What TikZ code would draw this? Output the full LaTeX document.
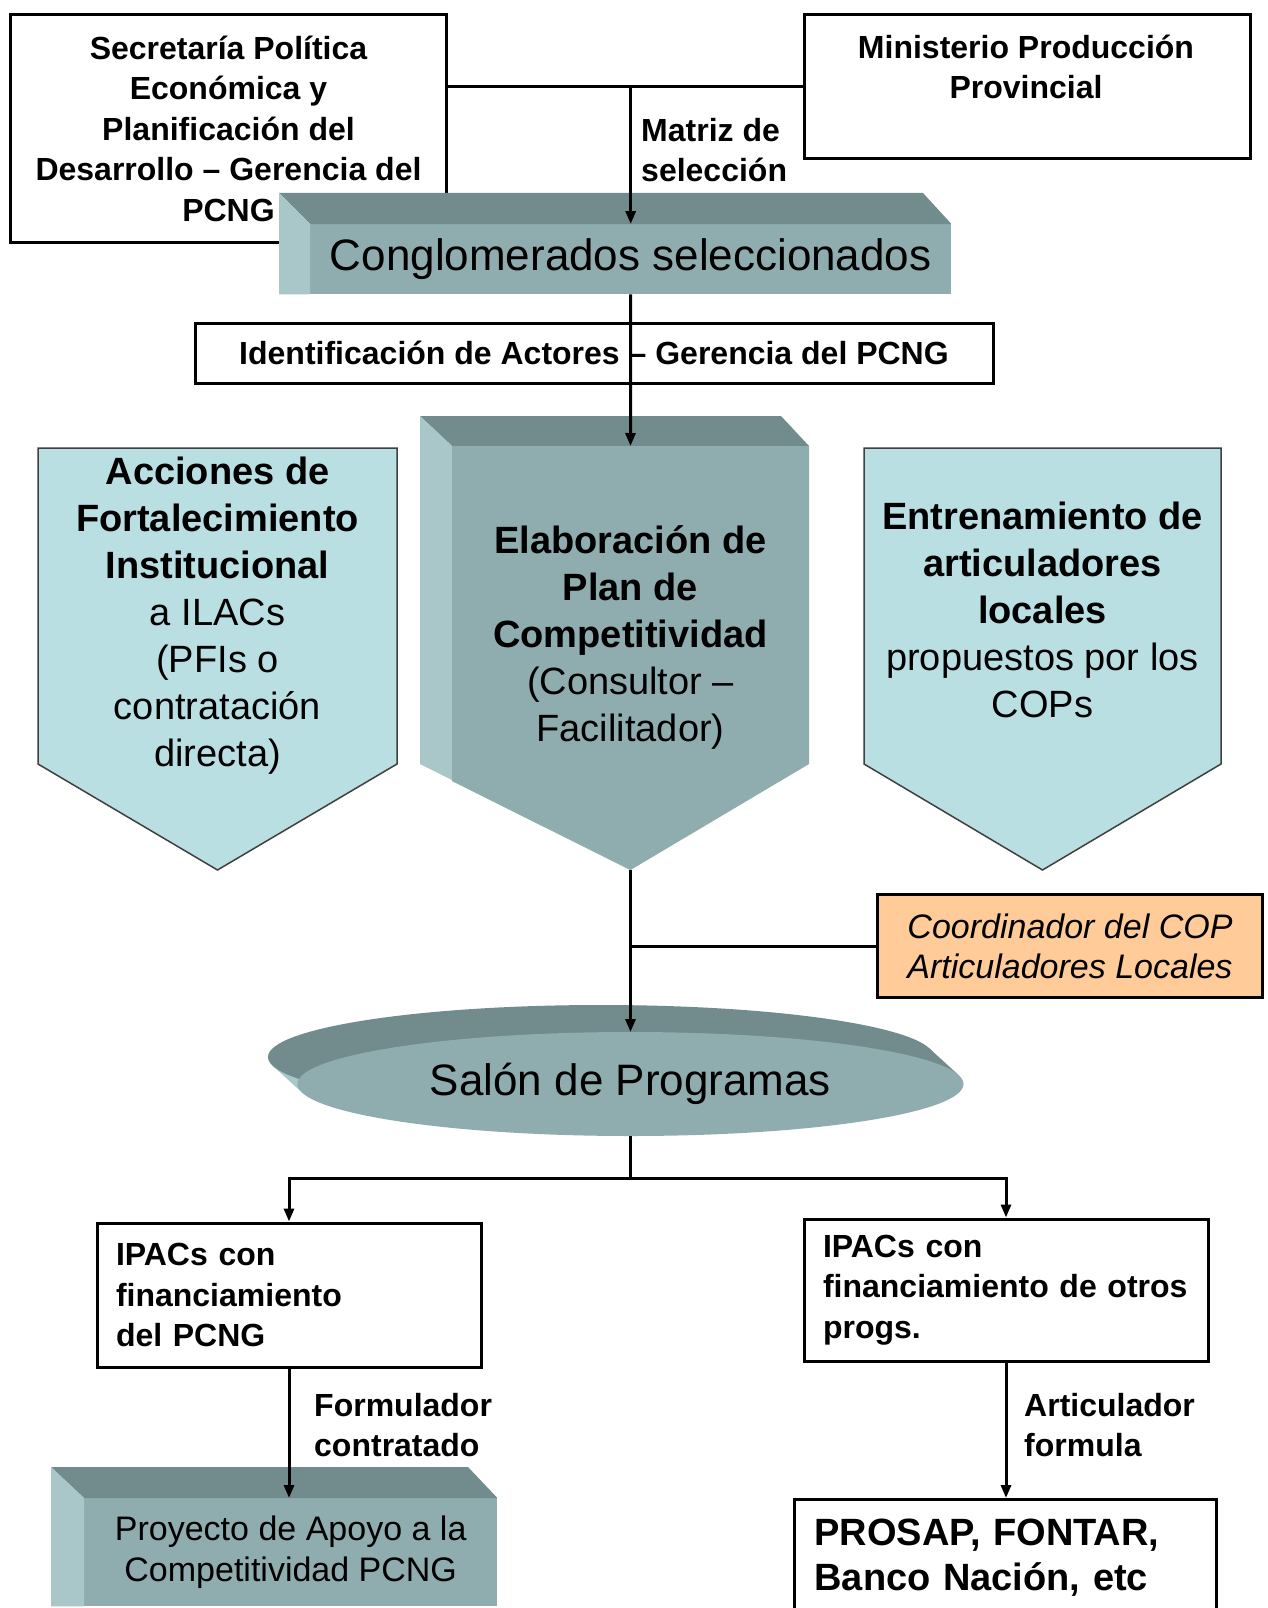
\documentclass[tikz,border=0pt]{standalone}
\usepackage{fontspec}
\setmainfont{Liberation Sans}
\usetikzlibrary{arrows.meta,positioning}

\definecolor{slatefront}{HTML}{8FACAE}
\definecolor{slatetop}{HTML}{728B8C}
\definecolor{slateside}{HTML}{A9C7C9}
\definecolor{paleaqua}{HTML}{B9DFE3}
\definecolor{peach}{HTML}{FFCC99}
\definecolor{rimgray}{HTML}{404040}

\newcommand{\fntLabel}{\fontsize{32}{40.5}\selectfont\bfseries}
\newcommand{\fntShape}{\fontsize{38}{47}\selectfont}
\newcommand{\fntSlab}{\fontsize{44}{52}\selectfont}
\newcommand{\fntNote}{\fontsize{34}{40}\selectfont\itshape}
\newcommand{\fntMid}{\fontsize{34}{41}\selectfont}
\newcommand{\fntBank}{\fontsize{38}{45}\selectfont\bfseries}

\tikzset{
  plainbox/.style={draw, line width=3pt, fill=white, inner sep=0pt},
  frontface/.style={fill=slatefront, inner sep=0pt},
  penta/.style={fill=paleaqua, draw=rimgray, line width=1.5pt},
  joinline/.style={line width=3pt},
  arrowline/.style={line width=3pt, -{Triangle[length=13pt,width=10pt]}},
  edgenote/.style={inner sep=0pt, align=left, anchor=west, font=\fntLabel}
}

\begin{document}
\begin{tikzpicture}[x=1pt,y=-1pt]
\useasboundingbox (0,0) rectangle (1267,1608);
\fill[white] (0,0) rectangle (1267,1608);

% who selects
\node[plainbox, anchor=north west, minimum width=436pt, minimum height=228pt, align=center, font=\fntLabel] (secre) at (9,13) {Secretaría Política\\Económica y\\Planificación del\\Desarrollo – Gerencia del\\PCNG};
\node[plainbox, anchor=north west, minimum width=446pt, minimum height=144pt] (minis) at (803,13) {};
\node[align=center, font=\fntLabel] (minis-txt) at (1026,67) {Ministerio Producción\\Provincial};
\draw[joinline] (minis.west) -- (minis.west -| secre.east);

% selected clusters
\node[frontface, anchor=north west, minimum width=641pt, minimum height=70pt, font=\fntSlab] (cong) at (310,224) {Conglomerados seleccionados};
\fill[slatetop] (cong.north west) -- ++(-31,-31) -- ++(644,0) -- (cong.north east) -- cycle;
\fill[slateside] (cong.north west) -- ++(-31,-31) |- (cong.south west) -- cycle;
\draw[arrowline] (cong.north |- minis.west) -- (cong.north);
\node[edgenote] (matriz) at (641,150) {Matriz de\\selección};

\node[plainbox, minimum width=798pt, minimum height=60pt, font=\fntLabel] (ident) at (594,353) {Identificación de Actores – Gerencia del PCNG};

% plan
\coordinate (elab-top) at (630.5,446);
\coordinate (elab-tip) at (630.5,870);
\fill[slatetop] (420,416) -- (781,416) -- (809,446) -- (452,446) -- cycle;
\fill[slateside] (420,416) -- (452,446) -- (452,781) -- (elab-tip) -- (420,764) -- cycle;
\fill[slatefront] (452,446) -- (809,446) -- (809,764) -- (elab-tip) -- (452,781) -- cycle;
\node[align=center, font=\fntShape] (elab) at (630.5,637) {\textbf{Elaboración de}\\\textbf{Plan de}\\\textbf{Competitividad}\\(Consultor –\\Facilitador)};
\draw[arrowline] (cong.south) -- (elab-top);

\filldraw[penta] (38,448) -- (397,448) -- (397,764) -- (217.5,870) -- (38,764) -- cycle;
\node[align=center, font=\fntShape] (accion) at (217.5,616) {\textbf{Acciones de}\\\textbf{Fortalecimiento}\\\textbf{Institucional}\\a ILACs\\(PFIs o\\contratación\\directa)};
\filldraw[penta] (864,448) -- (1221,448) -- (1221,764) -- (1042.5,870) -- (864,764) -- cycle;
\node[align=center, font=\fntShape] (entren) at (1042.5,610) {\textbf{Entrenamiento de}\\\textbf{articuladores}\\\textbf{locales}\\propuestos por los\\COPs};

% programme hall
\node[draw, line width=3pt, fill=peach, minimum width=385pt, minimum height=103pt, align=center, font=\fntNote] (coord) at (1070,946) {Coordinador del COP\\Articuladores Locales};
\fill[slatetop] (929.3,1048.3) -- (958.8,1075.3) -- (630.5,1084) -- (601,1057) -- cycle;
\fill[slateside] (272.7,1065.7) -- (302.2,1092.7) -- (630.5,1084) -- (601,1057) -- cycle;
\fill[slatetop] (601,1057) ellipse [x radius=333pt, y radius=52pt];
\fill[slatefront] (630.5,1084) ellipse [x radius=333pt, y radius=52pt];
\node[font=\fntSlab] (salon) at (630.5,1084) {Salón de Programas};
\coordinate (salon-top) at (630.5,1032);
\coordinate (salon-bot) at (630.5,1136);
\coordinate (split) at (630.5,1178);
\draw[joinline] (coord.west) -- (coord.west -| elab-tip);
\draw[arrowline] (elab-tip) -- (salon-top);

% financing
\node[plainbox, minimum width=384pt, minimum height=144pt, text width=346pt, align=left, font=\fntLabel] (ipac1) at (289,1295) {IPACs con\\financiamiento\\del PCNG};
\node[plainbox, minimum width=404pt, minimum height=142pt, text width=366pt, align=left, font=\fntLabel] (ipac2) at (1006,1290) {IPACs con\\financiamiento de otros\\progs.};
\draw[joinline] (salon-bot) -- (split);
\draw[arrowline] (split) -| (ipac1.north);
\draw[arrowline] (split) -| (ipac2.north);

\node[frontface, anchor=north west, minimum width=413pt, minimum height=108pt, align=center, font=\fntMid] (proy) at (84,1498) {Proyecto de Apoyo a la\\Competitividad PCNG};
\fill[slatetop] (proy.north west) -- ++(-33,-31) -- ++(417,0) -- (proy.north east) -- cycle;
\fill[slateside] (proy.north west) -- ++(-33,-31) |- (proy.south west) -- cycle;
\draw[arrowline] (ipac1.south) -- (ipac1.south |- proy.north);
\node[edgenote] (form) at (314,1425) {Formulador\\contratado};

\node[plainbox, anchor=north west, minimum width=422pt, minimum height=116pt, text width=382pt, align=left, font=\fntBank] (prosap) at (793,1498) {PROSAP, FONTAR,\\Banco Nación, etc};
\draw[arrowline] (ipac2.south) -- (ipac2.south |- prosap.north);
\node[edgenote] (artic) at (1024,1425) {Articulador\\formula};
\end{tikzpicture}
\end{document}
